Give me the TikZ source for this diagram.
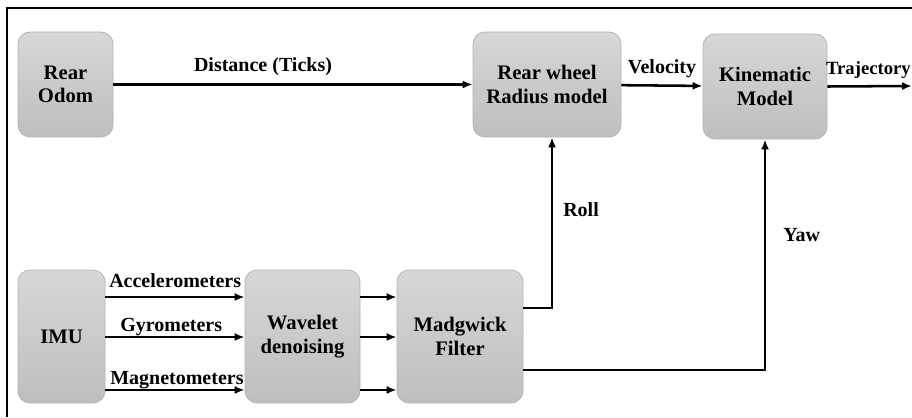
\documentclass[tikz,border=0pt]{standalone}
\usepackage{fontspec}
\setmainfont{Liberation Serif}
\usepackage{tikz}
\usetikzlibrary{positioning,arrows.meta}

\tikzset{
  blockbox/.style={draw={rgb,255:red,180;green,180;blue,180}, line width=0.6pt, rounded corners=9pt,
    top color={rgb,255:red,215;green,215;blue,215}, bottom color={rgb,255:red,190;green,190;blue,190},
    align=center, font=\fontsize{15.5}{17.5}\selectfont\bfseries, inner sep=0pt},
  sig/.style={line width=1.9pt, -{Latex[length=7.5pt,width=6pt]}},
  lbl/.style={font=\fontsize{15}{17}\selectfont\bfseries, inner sep=0pt}
}

\begin{document}
\begin{tikzpicture}[x=0.75pt,y=0.75pt,yscale=-1,xscale=1]
\useasboundingbox (0,0) rectangle (912,417);

%Frame (top and left side only)
\draw [line width=1.3pt] (7,417) -- (7,8) -- (912,8) ;

%Blocks
\node [blockbox, minimum width=71.25pt, minimum height=78.75pt] (odom) at (65.5,84.5) {Rear\\Odom};
\node [blockbox, minimum width=111pt, minimum height=78.75pt] (wheel) at (547,84.5) {Rear wheel\\Radius model};
\node [blockbox, minimum width=93pt, minimum height=78.75pt] (kin) at (765,86.5) {Kinematic\\Model};
\node [blockbox, minimum width=65.25pt, minimum height=99.75pt] (imu) at (61.5,336.5) {IMU};
\node [blockbox, minimum width=86.25pt, minimum height=99.75pt] (wav) at (302.5,336.5) {Wavelet\\denoising};
\node [blockbox, minimum width=94.5pt, minimum height=99.75pt] (madg) at (460,336.5) {Madgwick\\Filter};

%Rows and columns of the signal lines
\coordinate (accrow) at (0,297);
\coordinate (gyrrow) at (0,337);
\coordinate (magrow) at (0,390);
\coordinate (rollrow) at (0,308);
\coordinate (yawrow) at (0,370);
\coordinate (rollcol) at (552,0);
\coordinate (trajend) at (912,86);

%Top chain
\draw [sig] (odom) -- (wheel) ;
\draw [sig] (wheel) -- (kin) ;
\draw [sig] (kin.east) -- (trajend) ;

%IMU to Wavelet
\draw [sig] (imu.east |- accrow) -- (wav.west |- accrow) ;
\draw [sig] (imu.east |- gyrrow) -- (wav.west |- gyrrow) ;
\draw [sig] (imu.east |- magrow) -- (wav.west |- magrow) ;

%Wavelet to Madgwick
\draw [sig] (wav.east |- accrow) -- (madg.west |- accrow) ;
\draw [sig] (wav.east |- gyrrow) -- (madg.west |- gyrrow) ;
\draw [sig] (wav.east |- magrow) -- (madg.west |- magrow) ;

%Roll and Yaw feedback
\draw [sig] (madg.east |- rollrow) -| (rollcol |- wheel.south) ;
\draw [sig] (madg.east |- yawrow) -| (kin.south) ;

%Labels
\node [lbl] (distlbl) at (263,67) {Distance (Ticks)};
\node [lbl] (vellbl) at (662,69) {Velocity};
\node [lbl, anchor=east, font=\fontsize{14}{16}\selectfont\bfseries] (trajlbl) at (911,70) {Trajectory};
\node [lbl, anchor=west] (rolllbl) at (563,210) {Roll};
\node [lbl, anchor=west] (yawlbl) at (783,235) {Yaw};
\node [lbl, anchor=west] (acclbl) at (109,281) {Accelerometers};
\node [lbl, anchor=west] (gyrlbl) at (120,327) {Gyrometers};
\node [lbl, anchor=west] (maglbl) at (110,380) {Magnetometers};

\end{tikzpicture}
\end{document}
